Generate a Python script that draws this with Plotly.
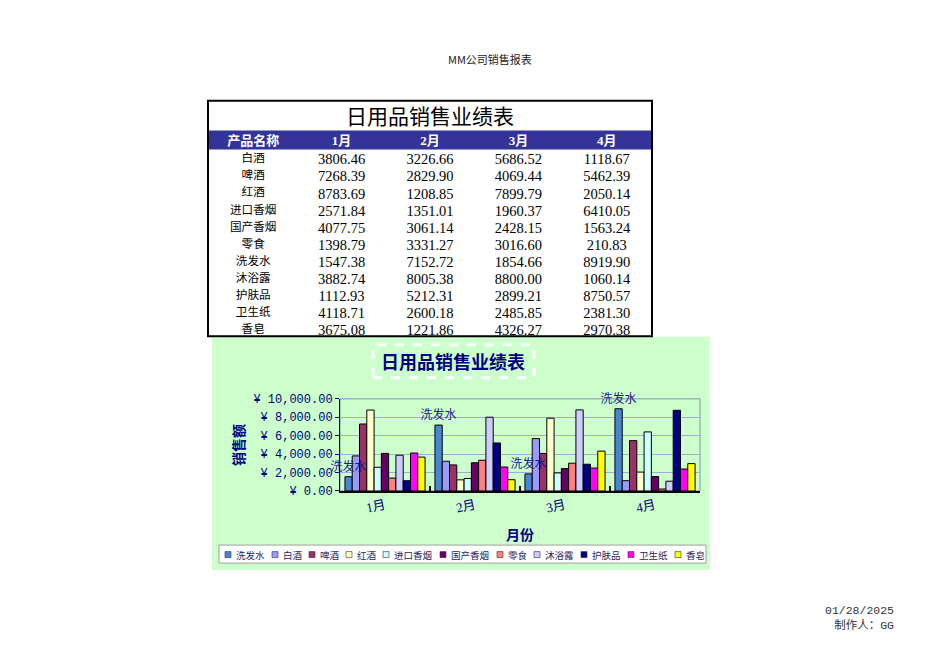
import plotly.graph_objects as go

W, H = 950, 672

# ---------------- data ----------------
months = ["1月", "2月", "3月", "4月"]
products = ["白酒", "啤酒", "红酒", "进口香烟", "国产香烟", "零食",
            "洗发水", "沐浴露", "护肤品", "卫生纸", "香皂"]
jan = [3806.46, 7268.39, 8783.69, 2571.84, 4077.75, 1398.79,
       1547.38, 3882.74, 1112.93, 4118.71, 3675.08]
feb = [3226.66, 2829.90, 1208.85, 1351.01, 3061.14, 3331.27,
       7152.72, 8005.38, 5212.31, 2600.18, 1221.86]
mar = [5686.52, 4069.44, 7899.79, 1960.37, 2428.15, 3016.60,
       1854.66, 8800.00, 2899.21, 2485.85, 4326.27]
apr = [1118.67, 5462.39, 2050.14, 6410.05, 1563.24, 210.83,
       8919.90, 1060.14, 8750.57, 2381.30, 2970.38]

table_header = ["产品名称", "1月", "2月", "3月", "4月"]
chart_order = ["洗发水", "白酒", "啤酒", "红酒", "进口香烟", "国产香烟",
               "零食", "沐浴露", "护肤品", "卫生纸", "香皂"]
series_colors = ["#4A86CF", "#9999FF", "#993366", "#FFFFCC", "#CCFFFF",
                 "#660066", "#FF8080", "#CCCCFF", "#000080", "#FF00FF", "#FFFF00"]
label_series = "洗发水"

page_title = "MM公司销售报表"
table_title = "日用品销售业绩表"
chart_title = "日用品销售业绩表"
x_title = "月份"
y_title = "销售额"
date_text = "01/28/2025"
author_text = "制作人：GG"

# ---------------- helpers ----------------
# vertical calibration of the page capture (figure px -> photographed px)
VS, VO = 0.9776, 6.8


def fy(y):
    """page-pixel y -> figure pixel y"""
    return (y - VO) / VS


def px(x):
    return x / W


def py(y):
    return 1 - fy(y) / H


SERIF = "Liberation Serif, Noto Sans CJK SC"
MONO = "Liberation Mono, Noto Sans CJK SC"
CJK = "Noto Sans CJK SC"
NAVY = "#000080"

fig = go.Figure()

# ---------------- table ----------------
ROW_H = 17.1
HDR_TOP = fy(140) - 12.0
ROW_TOP = fy(159) - 13.6
fig.add_trace(go.Table(
    domain=dict(x=[px(209), px(651)], y=[py(342), 1 - HDR_TOP / H]),
    columnwidth=[1, 1, 1, 1, 1],
    header=dict(
        values=table_header,
        fill_color="rgba(0,0,0,0)",
        line_color="rgba(0,0,0,0)",
        align="center",
        height=ROW_TOP - HDR_TOP,
        font=dict(family=SERIF, size=13, color="white", weight="bold"),
    ),
    cells=dict(
        values=[products, jan, feb, mar, apr],
        format=[None, ".2f", ".2f", ".2f", ".2f"],
        fill_color="rgba(0,0,0,0)",
        line_color="rgba(0,0,0,0)",
        align="center",
        height=ROW_H,
        font=dict(family=[CJK, SERIF, SERIF, SERIF, SERIF],
                  size=[11.6, 14.5, 14.5, 14.5, 14.5], color="black"),
    ),
))

# ---------------- bars ----------------
for gi, (name, col) in enumerate(zip(chart_order, series_colors)):
    idx = products.index(name)
    vals = [jan[idx], feb[idx], mar[idx], apr[idx]]
    fig.add_trace(go.Bar(
        x=months, y=vals, name=name, offsetgroup=str(gi),
        marker=dict(color=col, line=dict(color="black", width=1)),
        showlegend=False,
    ))

# data labels for one series, drawn on top of all bars
li = products.index(label_series)
lvals = [jan[li], feb[li], mar[li], apr[li]]
fig.add_trace(go.Bar(
    x=months, y=lvals, base=0, offsetgroup=str(chart_order.index(label_series)),
    marker=dict(color="rgba(0,0,0,0)", line=dict(width=0)),
    text=[label_series] * len(months), textposition="outside", textangle=0,
    constraintext="none", cliponaxis=False,
    textfont=dict(family=CJK, size=12, color="#1A1A8C"),
    hoverinfo="skip", showlegend=False,
))

# ---------------- shapes ----------------
shapes = [
    # table header band
    dict(type="rect", xref="paper", yref="paper", x0=px(209), x1=px(651),
         y0=py(150), y1=py(131), fillcolor="#333399", line=dict(width=0), layer="below"),
    # chart area background
    dict(type="rect", xref="paper", yref="paper", x0=px(212), x1=px(710),
         y0=py(570), y1=py(337), fillcolor="#CCFFCC", line=dict(width=0), layer="below"),
    # legend box
    dict(type="rect", xref="paper", yref="paper", x0=px(219), x1=px(706),
         y0=py(563), y1=py(545), fillcolor="white", line=dict(color="#A0A0A0", width=1),
         layer="below"),
    # plot-area border
    dict(type="rect", xref="x domain", yref="y domain", x0=0, x1=1, y0=0, y1=1,
         line=dict(color="#8C8CB4", width=1), layer="below"),
    # chart title dashed frame
    dict(type="rect", xref="paper", yref="paper", x0=px(373), x1=px(534),
         y0=py(378), y1=py(345), line=dict(color="white", width=3, dash="dash"),
         layer="above"),
    # table outer border
    dict(type="rect", xref="paper", yref="paper", x0=px(208), x1=px(652),
         y0=py(336.5), y1=py(101.5), line=dict(color="black", width=2), layer="above"),
]


def note(text, x, y, font, xanchor="center", align="center"):
    return dict(text=text, x=px(x), y=py(y), xref="paper", yref="paper",
                xanchor=xanchor, yanchor="middle", showarrow=False, font=font, align=align)


annotations = [
    note(page_title, 490, 60, dict(family=CJK, size=11, color="#222222")),
    note(table_title, 430, 116, dict(family=CJK, size=21, color="black")),
    note(chart_title, 453, 361, dict(family=CJK, size=18, color=NAVY, weight="bold")),
    note(date_text + "<br>" + author_text, 896, 618,
         dict(family=MONO, size=11.5, color="#333333"), "right", "right"),
]

# legend (built from series names and colours)
LEG_Y = 554.5
CH_W = 10
lx = 225.0
for name, col in zip(chart_order, series_colors):
    shapes.append(dict(type="rect", xref="paper", yref="paper",
                       x0=px(lx), x1=px(lx + 6), y0=py(LEG_Y + 3), y1=py(LEG_Y - 3),
                       fillcolor=col, line=dict(color="#333333", width=0.6), layer="above"))
    annotations.append(note(name, lx + 8.5, LEG_Y,
                            dict(family=CJK, size=9.5, color="#1F1F5F"), "left"))
    lx += 17 + len(name) * CH_W

fig.update_layout(
    width=W, height=H, margin=dict(l=0, r=0, t=0, b=0),
    paper_bgcolor="white", plot_bgcolor="white",
    barmode="group", bargap=0.11, bargroupgap=0, showlegend=False,
    shapes=shapes, annotations=annotations,
    xaxis=dict(
        domain=[px(340), px(700)], anchor="y", type="category",
        showline=True, linecolor="black", linewidth=2, showgrid=False,
        ticks="inside", tickson="boundaries", ticklen=5, tickwidth=2, tickcolor="black",
        tickangle=-12,
        tickfont=dict(family=SERIF, size=13, color=NAVY),
        title=dict(text=x_title, standoff=16,
                   font=dict(family=CJK, size=14, color=NAVY, weight="bold")),
    ),
    yaxis=dict(
        domain=[py(491), py(399)], anchor="x", range=[0, 10000], dtick=2000,
        tickprefix="¥ ", tickformat=",.2f",
        showgrid=True, gridcolor="#A8A8D8", gridwidth=1, zeroline=False,
        showline=True, linecolor=NAVY, linewidth=1,
        ticks="outside", ticklen=4, tickcolor=NAVY,
        tickfont=dict(family=MONO, size=12, color=NAVY),
        title=dict(text=y_title, standoff=5,
                   font=dict(family=CJK, size=14, color=NAVY, weight="bold")),
    ),
)

fig.write_html("out.html", config={"displayModeBar": False},
               post_script="document.body.style.margin='0';")
